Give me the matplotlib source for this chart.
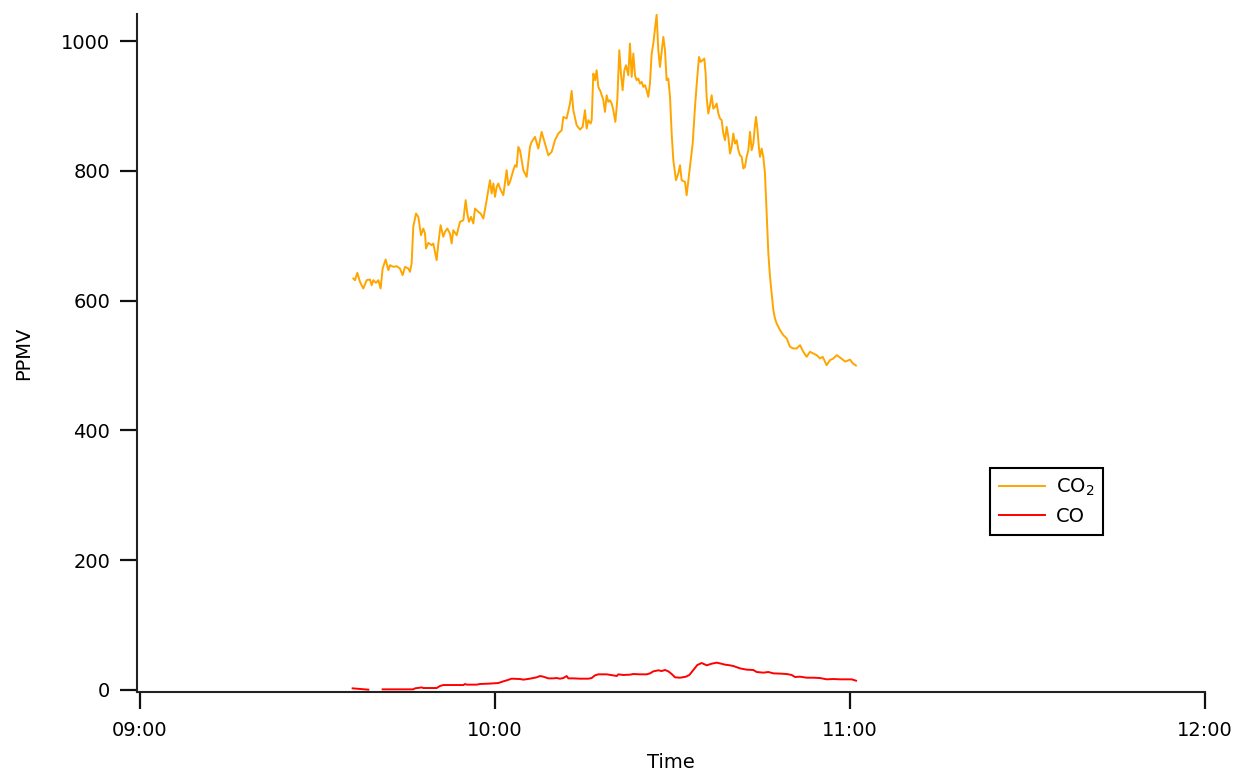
import matplotlib
matplotlib.use("Agg")
import matplotlib.pyplot as plt
import numpy as np

# ---- data (minutes after 09:00, PPMV) ----
co2_minutes = [36.05, 36.34, 36.73, 37.18, 37.74, 38.31, 38.87, 39.15, 39.43, 39.88,
               40.28, 40.67, 41.01, 41.52, 41.97, 42.25, 42.81, 43.38, 43.94, 44.39,
               44.79, 45.35, 45.63, 45.91, 46.19, 46.65, 47.04, 47.49, 47.88, 48.17,
               48.34, 48.73, 49.29, 49.57, 49.86, 50.14, 50.42, 50.81, 51.26, 51.55,
               51.94, 52.39, 52.67, 52.95, 53.52, 54.08, 54.65, 55.04, 55.32, 55.60,
               55.94, 56.34, 56.62, 57.18, 57.57, 58.03, 58.59, 59.15, 59.43, 59.72,
               60.00, 60.28, 60.56, 60.84, 61.41, 61.97, 62.25, 62.53, 63.10, 63.38,
               63.66, 63.94, 64.22, 64.79, 65.35, 65.91, 66.19, 66.76, 67.32, 67.88,
               68.45, 69.01, 69.58, 70.14, 70.70, 71.27, 71.55, 72.11, 72.67, 72.96,
               73.24, 73.80, 74.36, 74.81, 75.21, 75.49, 75.77, 76.17, 76.34, 76.62,
               76.90, 77.18, 77.46, 77.86, 78.31, 78.59, 78.87, 79.15, 79.44, 79.72,
               80.00, 80.34, 80.67, 81.01, 81.29, 81.57, 81.86, 82.14, 82.53, 82.81,
               83.10, 83.38, 83.66, 83.94, 84.22, 84.50, 84.79, 85.07, 85.35, 85.63,
               85.91, 86.19, 86.48, 86.76, 87.04, 87.32, 87.60, 87.88, 88.17, 88.45,
               88.73, 89.01, 89.29, 89.58, 89.86, 90.14, 90.59, 90.98, 91.27, 91.55,
               92.11, 92.39, 92.96, 93.41, 93.80, 94.19, 94.48, 94.76, 95.10, 95.38,
               95.60, 95.77, 96.05, 96.34, 96.62, 96.90, 97.18, 97.46, 97.75, 98.03,
               98.31, 98.59, 98.87, 99.15, 99.44, 99.72, 100.00, 100.28, 100.56, 100.85,
               101.13, 101.41, 101.69, 101.97, 102.25, 102.53, 102.82, 103.10, 103.38, 103.66,
               103.94, 104.11, 104.34, 104.62, 104.79, 105.07, 105.35, 105.63, 105.92, 106.20,
               106.48, 106.76, 107.04, 107.32, 107.61, 108.17, 108.73, 109.30, 109.86, 110.42,
               110.99, 111.55, 112.11, 112.67, 113.24, 113.80, 114.36, 114.93, 115.38, 115.77,
               116.05, 116.62, 117.18, 117.75, 118.14, 119.20, 120.00, 120.50, 121.00]
co2_ppmv = [634.1, 631.5, 642.9, 629.0, 618.7, 631.5, 632.6, 623.8, 631.5, 627.4,
            631.5, 618.7, 649.5, 663.4, 647.0, 654.7, 652.1, 653.1, 649.5, 639.3,
            652.1, 649.5, 644.4, 657.2, 713.8, 734.3, 729.2, 700.9, 711.2, 703.5,
            680.4, 689.1, 685.5, 688.1, 675.2, 662.4, 688.1, 716.3, 698.4, 706.1,
            711.2, 703.5, 688.1, 708.6, 700.9, 721.5, 724.0, 754.9, 734.3, 721.5,
            729.2, 718.9, 742.0, 736.9, 734.3, 726.6, 754.9, 785.7, 765.2, 780.6,
            760.0, 775.4, 780.6, 772.9, 762.6, 801.1, 778.0, 783.1, 801.1, 808.8,
            806.3, 837.1, 832.0, 801.1, 790.8, 837.1, 844.8, 852.5, 834.5, 860.2,
            842.2, 824.2, 829.4, 847.4, 857.7, 862.8, 883.3, 880.8, 903.9, 923.4,
            893.6, 870.5, 863.8, 867.9, 893.6, 865.4, 878.2, 873.1, 878.2, 950.1,
            939.9, 955.3, 929.6, 921.9, 909.0, 891.1, 916.7, 906.5, 909.0, 903.9,
            893.6, 875.6, 909.0, 986.1, 950.1, 924.5, 955.3, 963.0, 947.6, 996.4,
            945.0, 981.0, 947.6, 939.9, 942.4, 934.7, 937.3, 929.6, 932.2, 924.5,
            914.2, 934.7, 981.0, 996.4, 1019.5, 1041.0, 986.1, 960.4, 983.5, 1006.7,
            986.1, 939.9, 942.4, 914.2, 857.7, 816.5, 785.7, 796.0, 808.8, 785.7,
            783.1, 762.6, 806.3, 842.2, 898.8, 945.0, 975.8, 968.1, 970.7, 973.3,
            950.1, 914.2, 888.5, 901.3, 916.7, 896.2, 898.8, 903.9, 888.5, 880.8,
            878.2, 857.7, 847.4, 867.9, 852.5, 826.8, 837.1, 857.7, 842.2, 847.4,
            832.0, 824.2, 821.7, 803.7, 806.3, 821.7, 832.0, 860.2, 832.0, 842.2,
            870.5, 883.3, 865.4, 834.5, 821.7, 834.5, 821.7, 796.0, 734.3, 672.7,
            636.7, 611.0, 585.3, 572.5, 564.7, 554.5, 546.8, 541.6, 528.8, 526.2,
            526.2, 531.3, 521.1, 513.4, 521.1, 518.5, 515.9, 510.8, 513.4, 505.7,
            500.5, 508.2, 510.8, 515.9, 513.4, 506.0, 509.0, 503.0, 500.0]

co_minutes = [35.94, 38.59, 40.00, 41.01, 46.19, 46.48, 47.32, 47.60, 47.88, 50.14,
              50.70, 51.26, 54.65, 54.93, 55.21, 56.90, 57.46, 58.87, 60.56, 61.41,
              61.97, 62.81, 64.22, 64.79, 65.91, 67.04, 67.60, 68.17, 69.01, 69.86,
              70.42, 70.98, 71.55, 72.11, 72.39, 73.24, 74.36, 75.77, 76.34, 76.90,
              77.46, 78.88, 80.00, 80.57, 80.85, 81.69, 82.82, 83.38, 84.51, 85.64,
              86.20, 86.76, 87.61, 88.17, 88.74, 89.30, 89.86, 90.43, 91.27, 92.29,
              92.85, 93.52, 94.20, 94.93, 95.78, 96.62, 97.47, 98.03, 98.88, 99.72,
              100.29, 101.41, 102.54, 103.67, 104.23, 105.36, 106.20, 107.05, 108.45, 109.30,
              110.15, 110.71, 111.55, 112.68, 113.81, 114.93, 116.06, 117.18, 118.31, 119.44,
              120.28, 121.02]
co_ppmv = [2.1, 0.05, np.nan, 0.56, 0.56, 2.1, 3.1, 3.6, 2.6, 2.6,
           5.7, 7.2, 7.2, 8.8, 7.8, 7.8, 8.8, 9.3, 10.3, 12.9,
           14.4, 17.0, 16.5, 15.5, 17.0, 19.1, 21.1, 20.1, 17.5, 17.5,
           18.0, 17.0, 18.0, 21.1, 17.5, 17.5, 17.0, 17.0, 18.0, 22.1,
           23.7, 23.7, 22.1, 21.1, 23.7, 22.7, 23.2, 24.2, 23.7, 23.7,
           25.2, 28.3, 29.9, 28.8, 30.4, 28.3, 24.2, 19.1, 18.5, 20.1,
           22.7, 30.4, 38.1, 41.2, 37.6, 40.1, 41.7, 40.6, 38.6, 37.6,
           36.5, 32.9, 30.9, 30.4, 27.3, 26.3, 27.3, 25.2, 24.7, 24.2,
           22.7, 19.6, 20.1, 18.5, 18.5, 18.0, 16.0, 16.5, 16.0, 16.0,
           16.0, 13.9]

x_ticks = [9, 10, 11, 12]
x_tick_labels = ["09:00", "10:00", "11:00", "12:00"]
y_ticks = [0, 200, 400, 600, 800, 1000]

co2_hours = 9 + np.array(co2_minutes) / 60.0
co_hours = 9 + np.array(co_minutes) / 60.0

fig = plt.figure(figsize=(12.35, 7.72), dpi=100)
W, H = 1235, 772
ax_left, ax_right, ax_top, ax_bottom = 136.7, 1205, 14, 692.3
ax = fig.add_axes([ax_left / W, 1 - ax_bottom / H, (ax_right - ax_left) / W, (ax_bottom - ax_top) / H])

ax.plot(co2_hours, co2_ppmv, color="#FFA500", lw=1.4, label="CO$_2$")
ax.plot(co_hours, co_ppmv, color="#FF0000", lw=1.4, label="CO")

ax.set_xlim(9 - 3.3 / 355, 12)
ax.set_ylim(-4, 1042)
ax.set_xticks(x_ticks)
ax.set_xticklabels(x_tick_labels)
ax.set_yticks(y_ticks)

for s in ["top", "right"]:
    ax.spines[s].set_visible(False)
for s in ["left", "bottom"]:
    ax.spines[s].set_linewidth(1.5)
    ax.spines[s].set_color("#222222")

fs = 14
ax.tick_params(axis="both", direction="out", length=12, width=1.6, color="#111111", labelsize=fs)
ax.tick_params(axis="x", pad=9)
ax.tick_params(axis="y", pad=7)

ax.set_xlabel("Time", fontsize=fs, labelpad=9)
ax.set_ylabel("PPMV", fontsize=fs, labelpad=20)

leg = ax.legend(loc="upper left", bbox_to_anchor=((990 - ax_left) / (ax_right - ax_left), (ax_bottom - 468) / (ax_bottom - ax_top)),
                borderaxespad=0, fontsize=fs, frameon=True, fancybox=False, framealpha=1,
                edgecolor="black", handlelength=2.4, handletextpad=0.55, borderpad=0.45, labelspacing=0.45)
leg.get_frame().set_linewidth(1.5)

fig.savefig("out.png", dpi=100)
